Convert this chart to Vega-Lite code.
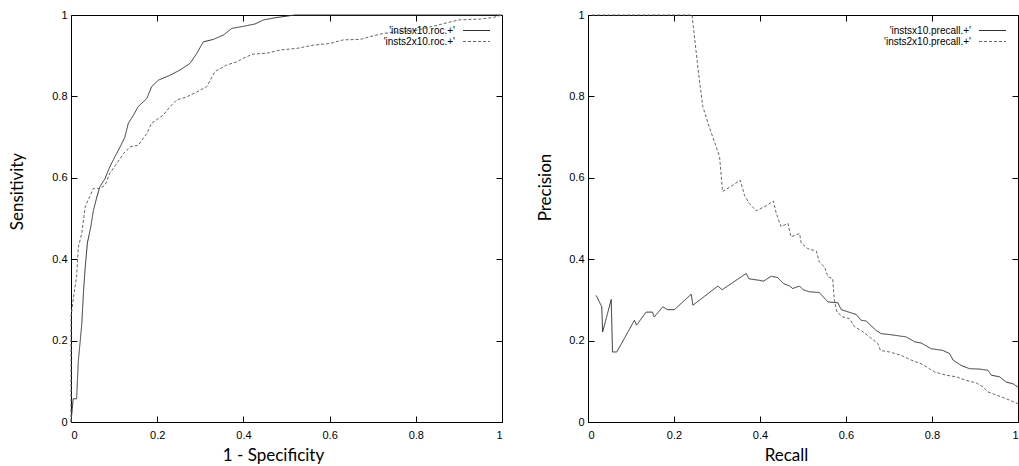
{
  "$schema": "https://vega.github.io/schema/vega-lite/v6.json",
  "background": "white",
  "padding": {"left": 8, "top": 8, "right": 0, "bottom": 0},
  "spacing": 31,
  "datasets": {
    "roc": [
      {"s": "'instsx10.roc.+'", "x": 0, "y": 0},
      {"s": "'instsx10.roc.+'", "x": 0.003, "y": 0.033},
      {"s": "'instsx10.roc.+'", "x": 0.005, "y": 0.057},
      {"s": "'instsx10.roc.+'", "x": 0.013, "y": 0.057},
      {"s": "'instsx10.roc.+'", "x": 0.017, "y": 0.15},
      {"s": "'instsx10.roc.+'", "x": 0.025, "y": 0.24},
      {"s": "'instsx10.roc.+'", "x": 0.029, "y": 0.32},
      {"s": "'instsx10.roc.+'", "x": 0.033, "y": 0.38},
      {"s": "'instsx10.roc.+'", "x": 0.038, "y": 0.44},
      {"s": "'instsx10.roc.+'", "x": 0.046, "y": 0.48},
      {"s": "'instsx10.roc.+'", "x": 0.052, "y": 0.52},
      {"s": "'instsx10.roc.+'", "x": 0.06, "y": 0.553},
      {"s": "'instsx10.roc.+'", "x": 0.067, "y": 0.578},
      {"s": "'instsx10.roc.+'", "x": 0.079, "y": 0.598},
      {"s": "'instsx10.roc.+'", "x": 0.09, "y": 0.627},
      {"s": "'instsx10.roc.+'", "x": 0.102, "y": 0.652},
      {"s": "'instsx10.roc.+'", "x": 0.114, "y": 0.676},
      {"s": "'instsx10.roc.+'", "x": 0.125, "y": 0.7},
      {"s": "'instsx10.roc.+'", "x": 0.133, "y": 0.734},
      {"s": "'instsx10.roc.+'", "x": 0.145, "y": 0.754},
      {"s": "'instsx10.roc.+'", "x": 0.156, "y": 0.775},
      {"s": "'instsx10.roc.+'", "x": 0.176, "y": 0.795},
      {"s": "'instsx10.roc.+'", "x": 0.187, "y": 0.824},
      {"s": "'instsx10.roc.+'", "x": 0.203, "y": 0.84},
      {"s": "'instsx10.roc.+'", "x": 0.23, "y": 0.852},
      {"s": "'instsx10.roc.+'", "x": 0.253, "y": 0.865},
      {"s": "'instsx10.roc.+'", "x": 0.276, "y": 0.881},
      {"s": "'instsx10.roc.+'", "x": 0.292, "y": 0.906},
      {"s": "'instsx10.roc.+'", "x": 0.307, "y": 0.934},
      {"s": "'instsx10.roc.+'", "x": 0.33, "y": 0.94},
      {"s": "'instsx10.roc.+'", "x": 0.354, "y": 0.951},
      {"s": "'instsx10.roc.+'", "x": 0.373, "y": 0.967},
      {"s": "'instsx10.roc.+'", "x": 0.404, "y": 0.973},
      {"s": "'instsx10.roc.+'", "x": 0.427, "y": 0.978},
      {"s": "'instsx10.roc.+'", "x": 0.447, "y": 0.988},
      {"s": "'instsx10.roc.+'", "x": 0.478, "y": 0.994},
      {"s": "'instsx10.roc.+'", "x": 0.52, "y": 1.0},
      {"s": "'instsx10.roc.+'", "x": 1.0, "y": 1.0},
      {"s": "'insts2x10.roc.+'", "x": 0, "y": 0},
      {"s": "'insts2x10.roc.+'", "x": 0, "y": 0.26},
      {"s": "'insts2x10.roc.+'", "x": 0.002, "y": 0.275},
      {"s": "'insts2x10.roc.+'", "x": 0.007, "y": 0.316},
      {"s": "'insts2x10.roc.+'", "x": 0.013, "y": 0.357},
      {"s": "'insts2x10.roc.+'", "x": 0.017, "y": 0.43},
      {"s": "'insts2x10.roc.+'", "x": 0.025, "y": 0.463},
      {"s": "'insts2x10.roc.+'", "x": 0.033, "y": 0.529},
      {"s": "'insts2x10.roc.+'", "x": 0.043, "y": 0.553},
      {"s": "'insts2x10.roc.+'", "x": 0.052, "y": 0.574},
      {"s": "'insts2x10.roc.+'", "x": 0.067, "y": 0.574},
      {"s": "'insts2x10.roc.+'", "x": 0.079, "y": 0.582},
      {"s": "'insts2x10.roc.+'", "x": 0.09, "y": 0.611},
      {"s": "'insts2x10.roc.+'", "x": 0.106, "y": 0.635},
      {"s": "'insts2x10.roc.+'", "x": 0.122, "y": 0.66},
      {"s": "'insts2x10.roc.+'", "x": 0.137, "y": 0.676},
      {"s": "'insts2x10.roc.+'", "x": 0.156, "y": 0.68},
      {"s": "'insts2x10.roc.+'", "x": 0.176, "y": 0.709},
      {"s": "'insts2x10.roc.+'", "x": 0.187, "y": 0.734},
      {"s": "'insts2x10.roc.+'", "x": 0.214, "y": 0.754},
      {"s": "'insts2x10.roc.+'", "x": 0.23, "y": 0.775},
      {"s": "'insts2x10.roc.+'", "x": 0.245, "y": 0.791},
      {"s": "'insts2x10.roc.+'", "x": 0.269, "y": 0.799},
      {"s": "'insts2x10.roc.+'", "x": 0.292, "y": 0.811},
      {"s": "'insts2x10.roc.+'", "x": 0.315, "y": 0.824},
      {"s": "'insts2x10.roc.+'", "x": 0.334, "y": 0.861},
      {"s": "'insts2x10.roc.+'", "x": 0.361, "y": 0.877},
      {"s": "'insts2x10.roc.+'", "x": 0.385, "y": 0.885},
      {"s": "'insts2x10.roc.+'", "x": 0.404, "y": 0.896},
      {"s": "'insts2x10.roc.+'", "x": 0.423, "y": 0.904},
      {"s": "'insts2x10.roc.+'", "x": 0.454, "y": 0.906},
      {"s": "'insts2x10.roc.+'", "x": 0.485, "y": 0.914},
      {"s": "'insts2x10.roc.+'", "x": 0.524, "y": 0.918},
      {"s": "'insts2x10.roc.+'", "x": 0.563, "y": 0.926},
      {"s": "'insts2x10.roc.+'", "x": 0.601, "y": 0.93},
      {"s": "'insts2x10.roc.+'", "x": 0.632, "y": 0.939},
      {"s": "'insts2x10.roc.+'", "x": 0.671, "y": 0.94},
      {"s": "'insts2x10.roc.+'", "x": 0.694, "y": 0.947},
      {"s": "'insts2x10.roc.+'", "x": 0.725, "y": 0.955},
      {"s": "'insts2x10.roc.+'", "x": 0.764, "y": 0.959},
      {"s": "'insts2x10.roc.+'", "x": 0.8, "y": 0.962},
      {"s": "'insts2x10.roc.+'", "x": 0.85, "y": 0.975},
      {"s": "'insts2x10.roc.+'", "x": 0.9, "y": 0.988},
      {"s": "'insts2x10.roc.+'", "x": 0.95, "y": 0.99},
      {"s": "'insts2x10.roc.+'", "x": 0.98, "y": 0.994},
      {"s": "'insts2x10.roc.+'", "x": 1.0, "y": 1.0}
    ],
    "pr": [
      {"s": "'instsx10.precall.+'", "x": 0.019, "y": 0.311},
      {"s": "'instsx10.precall.+'", "x": 0.032, "y": 0.283},
      {"s": "'instsx10.precall.+'", "x": 0.034, "y": 0.221},
      {"s": "'instsx10.precall.+'", "x": 0.054, "y": 0.301},
      {"s": "'instsx10.precall.+'", "x": 0.057, "y": 0.172},
      {"s": "'instsx10.precall.+'", "x": 0.067, "y": 0.172},
      {"s": "'instsx10.precall.+'", "x": 0.108, "y": 0.25},
      {"s": "'instsx10.precall.+'", "x": 0.113, "y": 0.238},
      {"s": "'instsx10.precall.+'", "x": 0.135, "y": 0.27},
      {"s": "'instsx10.precall.+'", "x": 0.15, "y": 0.27},
      {"s": "'instsx10.precall.+'", "x": 0.154, "y": 0.258},
      {"s": "'instsx10.precall.+'", "x": 0.174, "y": 0.283},
      {"s": "'instsx10.precall.+'", "x": 0.185, "y": 0.276},
      {"s": "'instsx10.precall.+'", "x": 0.201, "y": 0.276},
      {"s": "'instsx10.precall.+'", "x": 0.24, "y": 0.314},
      {"s": "'instsx10.precall.+'", "x": 0.244, "y": 0.287},
      {"s": "'instsx10.precall.+'", "x": 0.302, "y": 0.334},
      {"s": "'instsx10.precall.+'", "x": 0.312, "y": 0.325},
      {"s": "'instsx10.precall.+'", "x": 0.368, "y": 0.365},
      {"s": "'instsx10.precall.+'", "x": 0.374, "y": 0.352},
      {"s": "'instsx10.precall.+'", "x": 0.399, "y": 0.348},
      {"s": "'instsx10.precall.+'", "x": 0.408, "y": 0.346},
      {"s": "'instsx10.precall.+'", "x": 0.426, "y": 0.358},
      {"s": "'instsx10.precall.+'", "x": 0.441, "y": 0.355},
      {"s": "'instsx10.precall.+'", "x": 0.455, "y": 0.34},
      {"s": "'instsx10.precall.+'", "x": 0.469, "y": 0.334},
      {"s": "'instsx10.precall.+'", "x": 0.476, "y": 0.328},
      {"s": "'instsx10.precall.+'", "x": 0.492, "y": 0.334},
      {"s": "'instsx10.precall.+'", "x": 0.5, "y": 0.325},
      {"s": "'instsx10.precall.+'", "x": 0.515, "y": 0.32},
      {"s": "'instsx10.precall.+'", "x": 0.538, "y": 0.318},
      {"s": "'instsx10.precall.+'", "x": 0.558, "y": 0.295},
      {"s": "'instsx10.precall.+'", "x": 0.581, "y": 0.293},
      {"s": "'instsx10.precall.+'", "x": 0.589, "y": 0.276},
      {"s": "'instsx10.precall.+'", "x": 0.624, "y": 0.264},
      {"s": "'instsx10.precall.+'", "x": 0.635, "y": 0.25},
      {"s": "'instsx10.precall.+'", "x": 0.647, "y": 0.248},
      {"s": "'instsx10.precall.+'", "x": 0.67, "y": 0.225},
      {"s": "'instsx10.precall.+'", "x": 0.682, "y": 0.217},
      {"s": "'instsx10.precall.+'", "x": 0.701, "y": 0.215},
      {"s": "'instsx10.precall.+'", "x": 0.74, "y": 0.209},
      {"s": "'instsx10.precall.+'", "x": 0.76, "y": 0.197},
      {"s": "'instsx10.precall.+'", "x": 0.775, "y": 0.194},
      {"s": "'instsx10.precall.+'", "x": 0.798, "y": 0.18},
      {"s": "'instsx10.precall.+'", "x": 0.825, "y": 0.176},
      {"s": "'instsx10.precall.+'", "x": 0.841, "y": 0.168},
      {"s": "'instsx10.precall.+'", "x": 0.849, "y": 0.152},
      {"s": "'instsx10.precall.+'", "x": 0.868, "y": 0.139},
      {"s": "'instsx10.precall.+'", "x": 0.887, "y": 0.131},
      {"s": "'instsx10.precall.+'", "x": 0.911, "y": 0.13},
      {"s": "'instsx10.precall.+'", "x": 0.93, "y": 0.127},
      {"s": "'instsx10.precall.+'", "x": 0.938, "y": 0.115},
      {"s": "'instsx10.precall.+'", "x": 0.957, "y": 0.111},
      {"s": "'instsx10.precall.+'", "x": 0.973, "y": 0.098},
      {"s": "'instsx10.precall.+'", "x": 0.988, "y": 0.094},
      {"s": "'instsx10.precall.+'", "x": 1.0, "y": 0.086},
      {"s": "'insts2x10.precall.+'", "x": 0.01, "y": 1.0},
      {"s": "'insts2x10.precall.+'", "x": 0.242, "y": 1.0},
      {"s": "'insts2x10.precall.+'", "x": 0.251, "y": 0.914},
      {"s": "'insts2x10.precall.+'", "x": 0.259, "y": 0.84},
      {"s": "'insts2x10.precall.+'", "x": 0.267, "y": 0.775},
      {"s": "'insts2x10.precall.+'", "x": 0.282, "y": 0.725},
      {"s": "'insts2x10.precall.+'", "x": 0.298, "y": 0.676},
      {"s": "'insts2x10.precall.+'", "x": 0.306, "y": 0.652},
      {"s": "'insts2x10.precall.+'", "x": 0.313, "y": 0.566},
      {"s": "'insts2x10.precall.+'", "x": 0.337, "y": 0.582},
      {"s": "'insts2x10.precall.+'", "x": 0.354, "y": 0.594},
      {"s": "'insts2x10.precall.+'", "x": 0.364, "y": 0.557},
      {"s": "'insts2x10.precall.+'", "x": 0.375, "y": 0.537},
      {"s": "'insts2x10.precall.+'", "x": 0.391, "y": 0.519},
      {"s": "'insts2x10.precall.+'", "x": 0.414, "y": 0.531},
      {"s": "'insts2x10.precall.+'", "x": 0.431, "y": 0.543},
      {"s": "'insts2x10.precall.+'", "x": 0.438, "y": 0.512},
      {"s": "'insts2x10.precall.+'", "x": 0.449, "y": 0.48},
      {"s": "'insts2x10.precall.+'", "x": 0.465, "y": 0.488},
      {"s": "'insts2x10.precall.+'", "x": 0.472, "y": 0.455},
      {"s": "'insts2x10.precall.+'", "x": 0.492, "y": 0.463},
      {"s": "'insts2x10.precall.+'", "x": 0.496, "y": 0.439},
      {"s": "'insts2x10.precall.+'", "x": 0.511, "y": 0.426},
      {"s": "'insts2x10.precall.+'", "x": 0.531, "y": 0.42},
      {"s": "'insts2x10.precall.+'", "x": 0.538, "y": 0.393},
      {"s": "'insts2x10.precall.+'", "x": 0.55, "y": 0.381},
      {"s": "'insts2x10.precall.+'", "x": 0.558, "y": 0.357},
      {"s": "'insts2x10.precall.+'", "x": 0.569, "y": 0.352},
      {"s": "'insts2x10.precall.+'", "x": 0.573, "y": 0.299},
      {"s": "'insts2x10.precall.+'", "x": 0.579, "y": 0.27},
      {"s": "'insts2x10.precall.+'", "x": 0.593, "y": 0.258},
      {"s": "'insts2x10.precall.+'", "x": 0.608, "y": 0.254},
      {"s": "'insts2x10.precall.+'", "x": 0.62, "y": 0.234},
      {"s": "'insts2x10.precall.+'", "x": 0.635, "y": 0.225},
      {"s": "'insts2x10.precall.+'", "x": 0.655, "y": 0.209},
      {"s": "'insts2x10.precall.+'", "x": 0.674, "y": 0.193},
      {"s": "'insts2x10.precall.+'", "x": 0.68, "y": 0.176},
      {"s": "'insts2x10.precall.+'", "x": 0.701, "y": 0.172},
      {"s": "'insts2x10.precall.+'", "x": 0.728, "y": 0.164},
      {"s": "'insts2x10.precall.+'", "x": 0.752, "y": 0.152},
      {"s": "'insts2x10.precall.+'", "x": 0.775, "y": 0.143},
      {"s": "'insts2x10.precall.+'", "x": 0.794, "y": 0.131},
      {"s": "'insts2x10.precall.+'", "x": 0.806, "y": 0.123},
      {"s": "'insts2x10.precall.+'", "x": 0.833, "y": 0.115},
      {"s": "'insts2x10.precall.+'", "x": 0.856, "y": 0.111},
      {"s": "'insts2x10.precall.+'", "x": 0.88, "y": 0.102},
      {"s": "'insts2x10.precall.+'", "x": 0.903, "y": 0.096},
      {"s": "'insts2x10.precall.+'", "x": 0.919, "y": 0.086},
      {"s": "'insts2x10.precall.+'", "x": 0.93, "y": 0.074},
      {"s": "'insts2x10.precall.+'", "x": 0.95, "y": 0.066},
      {"s": "'insts2x10.precall.+'", "x": 0.973, "y": 0.057},
      {"s": "'insts2x10.precall.+'", "x": 1.0, "y": 0.045}
    ]
  },
  "hconcat": [
    {
      "width": 431,
      "height": 407,
      "data": {"name": "roc"},
      "layer": [
        {
          "mark": {"type": "line", "strokeWidth": 1},
          "encoding": {
            "x": {"field": "x", "type": "quantitative", "scale": {"domain": [0, 1], "nice": false},
                  "axis": {"title": "1 - Specificity", "values": [0, 0.2, 0.4, 0.6, 0.8, 1], "format": "~g", "titleX": 202}},
            "y": {"field": "y", "type": "quantitative", "scale": {"domain": [0, 1], "nice": false},
                  "axis": {"title": "Sensitivity", "values": [0, 0.2, 0.4, 0.6, 0.8, 1], "format": "~g", "titleY": 176, "titlePadding": 25}},
            "order": {"value": null},
            "color": {"field": "s", "type": "nominal", "scale": {"domain": ["'instsx10.roc.+'", "'insts2x10.roc.+'"], "range": ["#333333", "#666666"]}, "legend": {"title": null}},
            "strokeDash": {"field": "s", "type": "nominal", "scale": {"domain": ["'instsx10.roc.+'", "'insts2x10.roc.+'"], "range": [[1, 0], [3, 2]]}, "legend": {"title": null}}
          }
        },
        {
          "mark": {"type": "line", "opacity": 0},
          "encoding": {
            "x": {"field": "x", "type": "quantitative", "axis": {"orient": "top", "labels": false, "title": null, "values": [0, 0.2, 0.4, 0.6, 0.8, 1]}},
            "y": {"field": "y", "type": "quantitative", "axis": {"orient": "right", "labels": false, "title": null, "values": [0, 0.2, 0.4, 0.6, 0.8, 1]}}
          }
        }
      ],
      "resolve": {"axis": {"x": "independent", "y": "independent"}}
    },
    {
      "width": 430,
      "height": 407,
      "data": {"name": "pr"},
      "layer": [
        {
          "mark": {"type": "line", "strokeWidth": 1},
          "encoding": {
            "x": {"field": "x", "type": "quantitative", "scale": {"domain": [0, 1], "nice": false},
                  "axis": {"title": "Recall", "values": [0, 0.2, 0.4, 0.6, 0.8, 1], "format": "~g", "titleX": 198}},
            "y": {"field": "y", "type": "quantitative", "scale": {"domain": [0, 1], "nice": false},
                  "axis": {"title": "Precision", "values": [0, 0.2, 0.4, 0.6, 0.8, 1], "format": "~g", "titleY": 172, "titlePadding": 14}},
            "order": {"value": null},
            "color": {"field": "s", "type": "nominal", "scale": {"domain": ["'instsx10.precall.+'", "'insts2x10.precall.+'"], "range": ["#333333", "#666666"]}, "legend": {"title": null}},
            "strokeDash": {"field": "s", "type": "nominal", "scale": {"domain": ["'instsx10.precall.+'", "'insts2x10.precall.+'"], "range": [[1, 0], [3, 2]]}, "legend": {"title": null}}
          }
        },
        {
          "mark": {"type": "line", "opacity": 0},
          "encoding": {
            "x": {"field": "x", "type": "quantitative", "axis": {"orient": "top", "labels": false, "title": null, "values": [0, 0.2, 0.4, 0.6, 0.8, 1]}},
            "y": {"field": "y", "type": "quantitative", "axis": {"orient": "right", "labels": false, "title": null, "values": [0, 0.2, 0.4, 0.6, 0.8, 1]}}
          }
        }
      ],
      "resolve": {"axis": {"x": "independent", "y": "independent"}}
    }
  ],
  "resolve": {"scale": {"color": "independent", "strokeDash": "independent"}, "legend": {"color": "independent", "strokeDash": "independent"}},
  "config": {
    "view": {"stroke": "#000000", "strokeWidth": 1},
    "axis": {
      "domain": false, "grid": false, "tickSize": -6, "tickColor": "#000000", "tickWidth": 1,
      "labelFont": "Liberation Sans Narrow, Liberation Sans", "labelFontSize": 11, "labelColor": "#000000",
      "titleFont": "Lato", "titleFontSize": 17, "titleFontWeight": "normal", "titleColor": "#000000"
    },
    "axisX": {"titlePadding": 7, "labelPadding": 13},
    "axisY": {"labelPadding": 10},
    "legend": {
      "orient": "top-right", "offset": 10, "symbolType": "M-2.7,0H2.7", "symbolSize": 100, "symbolStrokeWidth": 1,
      "labelAlign": "right", "labelOffset": -27, "labelFont": "Liberation Sans Narrow, Liberation Sans", "labelFontSize": 10,
      "labelColor": "#000000", "rowPadding": 0, "padding": 0, "labelLimit": 300
    }
  }
}
